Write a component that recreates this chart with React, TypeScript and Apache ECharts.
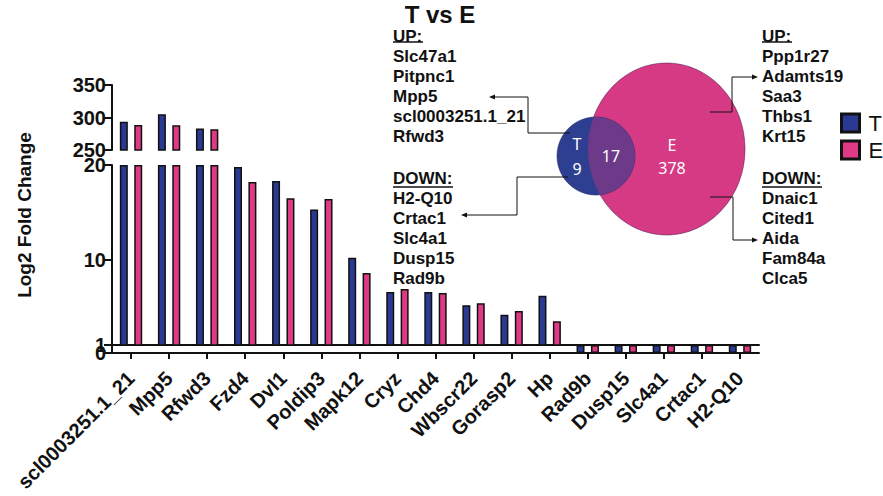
import React, { useEffect, useRef } from "react";
import * as echarts from "echarts";

const categories = [
  "scl0003251.1_21", "Mpp5", "Rfwd3", "Fzd4", "Dvl1", "Poldip3", "Mapk12", "Cryz", "Chd4",
  "Wbscr22", "Gorasp2", "Hp", "Rad9b", "Dusp15", "Slc4a1", "Crtac1", "H2-Q10",
];
// Log2 fold change (down-regulated genes sit in the 0–1 band)
const tValues = [293.5, 305, 283, 19.8, 18.3, 15.3, 10.2, 6.6, 6.6, 5.2, 4.2, 6.2, 1, 1, 1, 1, 1];
const eValues = [288.5, 288, 282, 18.2, 16.5, 16.4, 8.6, 6.9, 6.5, 5.4, 4.6, 3.5, 1, 1, 1, 1, 1];

const topTicks = [250, 300, 350];
const midTicks = [1, 10, 20];
const bottomTicks = [0];

const upLeft = ["Slc47a1", "Pitpnc1", "Mpp5", "scl0003251.1_21", "Rfwd3"];
const downLeft = ["H2-Q10", "Crtac1", "Slc4a1", "Dusp15", "Rad9b"];
const upRight = ["Ppp1r27", "Adamts19", "Saa3", "Thbs1", "Krt15"];
const downRight = ["Dnaic1", "Cited1", "Aida", "Fam84a", "Clca5"];

const vennT = { label: "T", count: 9 };
const vennBoth = { count: 17 };
const vennE = { label: "E", count: 378 };

const BLUE = "#2A3A92";
const PINK = "#E03A86";
const V_BLUE = "#2E3E90";
const V_PINK = "#D63A84";
const V_PURPLE = "#6C3A88";
const FONT = "'Liberation Sans', Arial, Helvetica, sans-serif";

const topData = (arr: number[]) => arr.map((v) => (v >= topTicks[0] ? v : null));
const midData = (arr: number[]) => arr.map((v) => (v > 1 ? Math.min(v, 20) : null));
const botData = (arr: number[]) => arr.map((v) => (v <= 1 ? v : null));

function lensPoints() {
  const t = { cx: 596, cy: 156, r: 39 };
  const e = { cx: 666.5, cy: 149, rx: 78.5, ry: 86 };
  const inE = (x: number, y: number) =>
    ((x - e.cx) / e.rx) ** 2 + ((y - e.cy) / e.ry) ** 2 <= 1;
  const inT = (x: number, y: number) => (x - t.cx) ** 2 + (y - t.cy) ** 2 <= t.r * t.r;
  const pts: number[][] = [];
  const N = 720;
  for (let i = 0; i <= N; i++) {
    const a = -Math.PI + (2 * Math.PI * i) / N;
    const x = t.cx + t.r * Math.cos(a);
    const y = t.cy + t.r * Math.sin(a);
    if (inE(x, y)) pts.push([x, y]);
  }
  for (let i = 0; i <= N; i++) {
    const a = (2 * Math.PI * i) / N;
    const x = e.cx + e.rx * Math.cos(a);
    const y = e.cy + e.ry * Math.sin(a);
    if (inT(x, y)) pts.push([x, y]);
  }
  return { t, e, pts };
}

export default function App() {
  const ref = useRef<HTMLDivElement>(null);
  useEffect(() => {
    document.body.style.margin = "0";
    const chart = echarts.init(ref.current!, null, { renderer: "svg" });
    const gridLeft = 112;
    const gridRight = 124;
    const axisLine = { show: true, lineStyle: { color: "#111", width: 2 } };
    const yLabel = { fontFamily: FONT, fontWeight: "bold" as const, fontSize: 20, color: "#111", margin: 6 };
    const yTick = { show: true, length: 8, lineStyle: { color: "#111", width: 2 } };
    const barCommon = {
      type: "bar" as const,
      barWidth: 8,
      barGap: "80%",
      clip: true,
    };
    const item = (c: string) => ({ color: c, borderColor: "#111", borderWidth: 1.5 });

    const { t, e, pts } = lensPoints();

    const arrowLeft = (x: number, y: number) => ({
      type: "polygon",
      shape: { points: [[x, y], [x + 6, y - 2.5], [x + 6, y + 2.5]] },
      style: { fill: "#111" },
    });
    const arrowRight = (x: number, y: number) => ({
      type: "polygon",
      shape: { points: [[x, y], [x - 6, y - 2.5], [x - 6, y + 2.5]] },
      style: { fill: "#111" },
    });
    const line = (points: number[][]) => ({
      type: "polyline",
      shape: { points },
      style: { stroke: "#111", lineWidth: 1, fill: null },
    });
    const listText = (x: number, y: number, header: string, items: string[]) => ({
      type: "text",
      x,
      y,
      style: {
        text: [header, ...items].join("\n"),
        font: `bold 17px ${FONT}`,
        lineHeight: 20,
        fill: "#111",
        textVerticalAlign: "top",
      },
    });
    const underline = (x1: number, x2: number, y: number) => ({
      type: "line",
      shape: { x1, y1: y, x2, y2: y },
      style: { stroke: "#111", lineWidth: 1.5 },
    });
    const vennText = (x: number, y: number, s: string) => ({
      type: "text",
      x,
      y,
      style: {
        text: s,
        font: `16px 'Noto Sans', 'Open Sans', sans-serif`,
        fill: "#fff",
        textAlign: "center",
        textVerticalAlign: "middle",
      },
    });

    chart.setOption({
      animation: false,
      title: {
        text: "T vs E",
        left: 435,
        top: -3,
        textAlign: "center",
        textStyle: { fontFamily: FONT, fontWeight: "bold", fontSize: 24, color: "#111" },
      },
      legend: {
        data: ["T", "E"],
        orient: "vertical",
        left: 835,
        top: 107,
        itemWidth: 18,
        itemHeight: 18,
        itemGap: 5,
        icon: "rect",
        itemStyle: { borderColor: "#111", borderWidth: 3 },
        textStyle: { fontFamily: FONT, fontSize: 22, color: "#111", padding: [0, 0, 0, 4] },
      },
      grid: [
        { left: gridLeft, right: gridRight, top: 85, height: 65 },
        { left: gridLeft, right: gridRight, top: 165, height: 180 },
        { left: gridLeft, right: gridRight, top: 345, height: 8 },
      ],
      xAxis: [
        { type: "category", data: categories, gridIndex: 0, show: false },
        {
          type: "category",
          data: categories,
          gridIndex: 1,
          axisLine,
          axisTick: { show: false },
          axisLabel: { show: false },
        },
        {
          type: "category",
          data: categories,
          gridIndex: 2,
          axisLine,
          axisTick: { show: true, alignWithLabel: true, length: 6, lineStyle: { color: "#111", width: 2 } },
          axisLabel: {
            interval: 0,
            rotate: 45,
            margin: 22,
            fontFamily: FONT,
            fontWeight: "bold",
            fontSize: 20,
            color: "#111",
          },
        },
      ],
      yAxis: [
        {
          type: "value",
          gridIndex: 0,
          min: 250,
          max: 350,
          interval: 50,
          axisLine,
          axisTick: yTick,
          axisLabel: yLabel,
          splitLine: { show: false },
        },
        {
          type: "value",
          gridIndex: 1,
          min: 1,
          max: 20,
          axisLine,
          axisTick: { ...yTick, customValues: midTicks },
          axisLabel: { ...yLabel, customValues: midTicks },
          splitLine: { show: false },
        },
        {
          type: "value",
          gridIndex: 2,
          min: 0,
          max: 1,
          axisLine,
          axisTick: { ...yTick, customValues: bottomTicks },
          axisLabel: { ...yLabel, customValues: bottomTicks },
          splitLine: { show: false },
        },
      ],
      series: [
        { ...barCommon, name: "T", xAxisIndex: 0, yAxisIndex: 0, data: topData(tValues), itemStyle: item(BLUE) },
        { ...barCommon, name: "E", xAxisIndex: 0, yAxisIndex: 0, data: topData(eValues), itemStyle: item(PINK) },
        { ...barCommon, name: "T", xAxisIndex: 1, yAxisIndex: 1, data: midData(tValues), itemStyle: item(BLUE) },
        { ...barCommon, name: "E", xAxisIndex: 1, yAxisIndex: 1, data: midData(eValues), itemStyle: item(PINK) },
        { ...barCommon, name: "T", xAxisIndex: 2, yAxisIndex: 2, data: botData(tValues), itemStyle: item(BLUE) },
        { ...barCommon, name: "E", xAxisIndex: 2, yAxisIndex: 2, data: botData(eValues), itemStyle: item(PINK) },
      ],
      graphic: [
        {
          type: "text",
          x: 24,
          y: 215,
          rotation: Math.PI / 2,
          style: {
            text: "Log2 Fold Change",
            font: `bold 19px ${FONT}`,
            fill: "#111",
            textAlign: "center",
            textVerticalAlign: "middle",
          },
        },
        { type: "ellipse", shape: { cx: e.cx, cy: e.cy, rx: e.rx, ry: e.ry }, style: { fill: V_PINK, stroke: "#5a2a60", lineWidth: 0.6 } },
        { type: "circle", shape: { cx: t.cx, cy: t.cy, r: t.r }, style: { fill: V_BLUE, stroke: "#1c2660", lineWidth: 0.6 } },
        { type: "polygon", shape: { points: pts }, style: { fill: V_PURPLE } },
        vennText(577, 144, vennT.label),
        vennText(577, 169, String(vennT.count)),
        vennText(611, 156, String(vennBoth.count)),
        vennText(672, 145, vennE.label),
        vennText(672, 168, String(vennE.count)),
        line([[570, 133], [528, 133], [528, 97], [494, 97]]),
        arrowLeft(489, 97),
        line([[568, 177], [517, 177], [517, 215], [466, 215]]),
        arrowLeft(461, 215),
        line([[710, 112], [732, 112], [732, 77], [753, 77]]),
        arrowRight(758, 77),
        line([[710, 197], [733, 197], [733, 240], [753, 240]]),
        arrowRight(758, 240),
        listText(393, 26, "UP:", upLeft),
        underline(393, 423, 42),
        listText(393, 168, "DOWN:", downLeft),
        underline(393, 453, 187),
        listText(762, 26, "UP:", upRight),
        underline(762, 792, 42),
        listText(762, 168, "DOWN:", downRight),
        underline(762, 822, 187),
      ],
    });
    return () => chart.dispose();
  }, []);
  return <div ref={ref} style={{ position: "absolute", left: 0, top: 0, width: 883, height: 496 }} />;
}
